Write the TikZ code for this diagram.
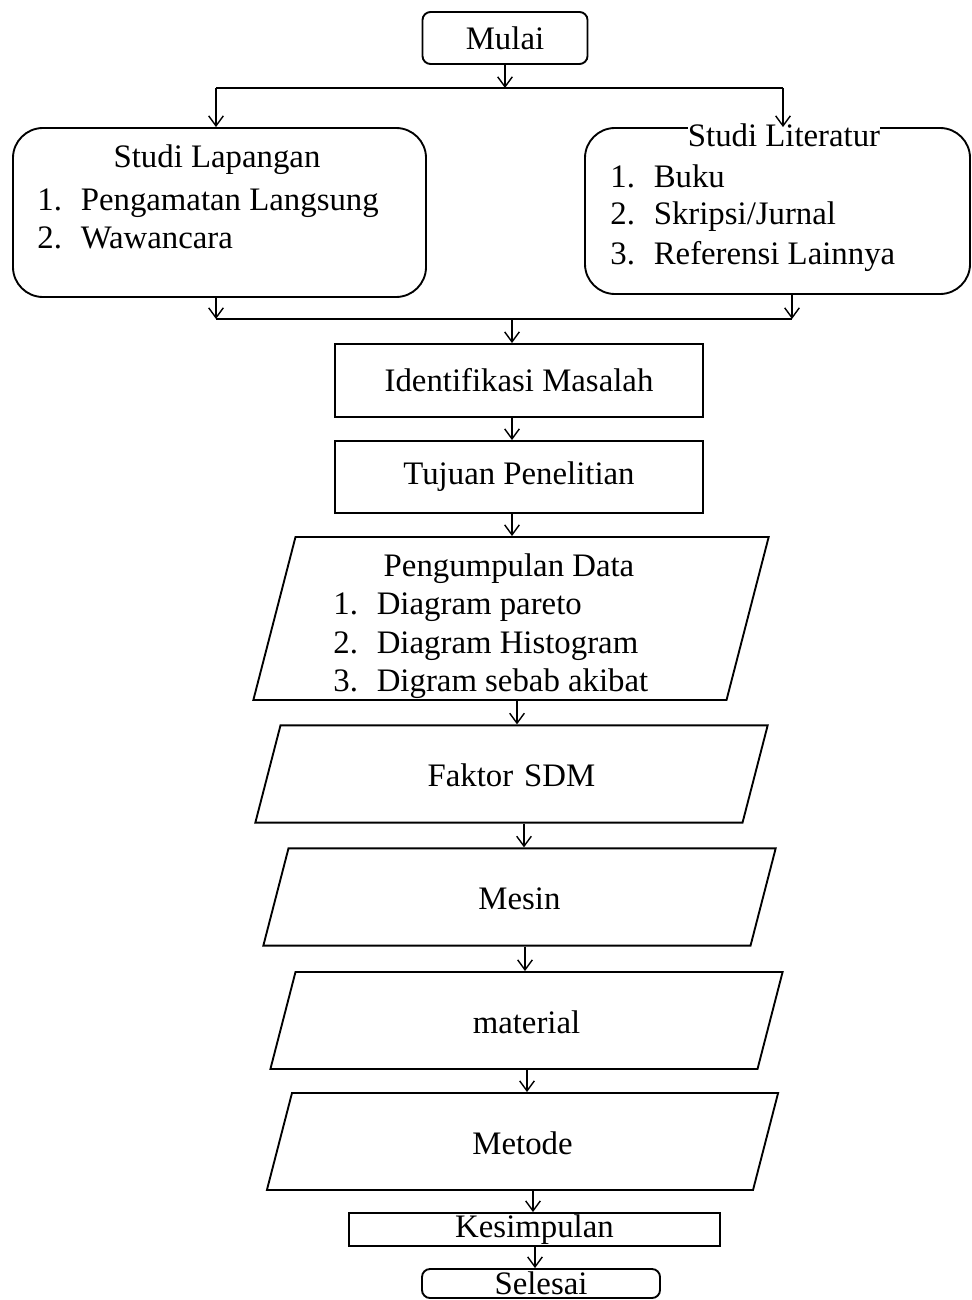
\documentclass[tikz,border=0pt]{standalone}
\usepackage{fontspec}
\setmainfont{Liberation Serif}
\usepackage{xcolor}
\definecolor{cLine}{HTML}{000000}
\usepackage{tikz}
\usetikzlibrary{positioning,arrows.meta,shapes.geometric,calc}
\newcommand{\fsz}{\fontsize{14}{17}\selectfont}
\newcommand{\nomor}[1]{\makebox[6.5mm][l]{#1}}
\tikzset{
  node-round/.style={draw=cLine,line width=0.8pt,rounded corners=4.5mm,inner sep=0pt},
  node-end/.style={draw=cLine,line width=0.8pt,rounded corners=1.2mm,inner sep=0pt,font=\fsz},
  node-box/.style={draw=cLine,line width=0.8pt,inner sep=0pt,font=\fsz},
  % jajar genjang untuk data / faktor
  node-data/.style={draw=cLine,line width=0.8pt,trapezium,trapezium left angle=75.5,
    trapezium right angle=104.5,inner xsep=0pt,inner ysep=5.4mm,align=center,
    text width=69.3mm,text height=3.8mm,text depth=0mm,font=\fsz},
  node-text/.style={inner sep=0pt,font=\fsz},
  node-item/.style={node-text,anchor=base west},
  link/.style={line width=0.8pt,draw=cLine},
  arrow/.style={-{Straight Barb[length=1.5mm,width=2.2mm]},line width=0.6pt,draw=cLine},
}

\begin{document}
\begin{tikzpicture}[x=0.15mm,y=-0.15mm]
  \useasboundingbox (0,0) rectangle (972,1300);
  \node[node-end,minimum width=24.75mm,minimum height=7.8mm] (mulai) at (505,38) {Mulai};

  \node[node-round,minimum width=61.95mm,minimum height=25.35mm] (lap) at (219.5,212.5) {};
  \node[node-text,anchor=base] (lap-t) at (217,168) {Studi Lapangan};
  \node[node-item] (lap-1) at (37,211) {\nomor{1.}Pengamatan Langsung};
  \node[node-item] (lap-2) at (37,249) {\nomor{2.}Wawancara};

  \node[node-round,minimum width=57.75mm,minimum height=24.9mm] (lit) at (777.5,211) {};
  \node[node-text,fill=white,anchor=base] (lit-t) at (784,147) {Studi Literatur};
  \node[node-item] (lit-1) at (610,188) {\nomor{1.}Buku};
  \node[node-item] (lit-2) at (610,225) {\nomor{2.}Skripsi/Jurnal};
  \node[node-item] (lit-3) at (610,264) {\nomor{3.}Referensi Lainnya};

  \coordinate (cabang) at (505,88);
  \coordinate (cabangL) at (216,88);
  \coordinate (cabangR) at (783,88);
  \draw[arrow] (mulai) -- (cabang);
  \draw[link] (cabangL) -- (cabangR);
  \draw[arrow] (cabangL) -- (cabangL |- lap.north);
  \draw[arrow] (cabangR) -- (cabangR |- lit.north);

  \node[node-box,minimum width=55.2mm,minimum height=10.95mm] (ident) at (519,380.5) {Identifikasi Masalah};
  \node[node-box,minimum width=55.2mm,minimum height=10.8mm] (tujuan) at (519,477) {Tujuan Penelitian};

  \coordinate (gabung) at (512,319);
  \coordinate (gabungL) at (216,319);
  \coordinate (gabungR) at (792,319);
  \draw[arrow] (lap.south -| gabungL) -- (gabungL);
  \draw[arrow] (lit.south -| gabungR) -- (gabungR);
  \draw[link] (gabungL) -- (gabungR);
  \draw[arrow] (gabung) -- (gabung |- ident.north);
  \draw[arrow] (ident.south -| gabung) -- (tujuan.north -| gabung);

  \node[node-data,text width=64.65mm,inner ysep=12.225mm,text height=0pt,text depth=0pt] (kumpul) at (511,618.5) {};
  \node[node-text,anchor=base] (kumpul-t) at (509,576) {Pengumpulan Data};
  \node[node-item] (kumpul-1) at (333,614) {\nomor{1.}Diagram pareto};
  \node[node-item] (kumpul-2) at (333,653) {\nomor{2.}Diagram Histogram};
  \node[node-item] (kumpul-3) at (333,691) {\nomor{3.}Digram sebab akibat};
  \draw[arrow] (tujuan.south -| gabung) -- (kumpul.north -| gabung);

  \node[node-data] (faktor) at (511.5,774) {Faktor SDM};
  \node[node-data] (mesin) at (519.5,897) {Mesin};
  \node[node-data,inner ysep=5.375mm] (material) at (526.5,1020.5) {material};
  \node[node-data,inner ysep=5.375mm,text width=69.15mm] (metode) at (522.5,1141.5) {Metode};
  \node[node-box,minimum width=55.65mm,minimum height=4.95mm] (simpul) at (534.5,1229.5) {Kesimpulan};
  \node[node-end,minimum width=35.7mm,minimum height=4.35mm] (selesai) at (541,1283.5) {Selesai};

  \foreach \a/\b/\x in {kumpul/faktor/517,faktor/mesin/524,mesin/material/525,
      material/metode/527,metode/simpul/533,simpul/selesai/535}
    \draw[arrow] (\a.south -| \x,0) -- (\b.north -| \x,0);
\end{tikzpicture}
\end{document}
